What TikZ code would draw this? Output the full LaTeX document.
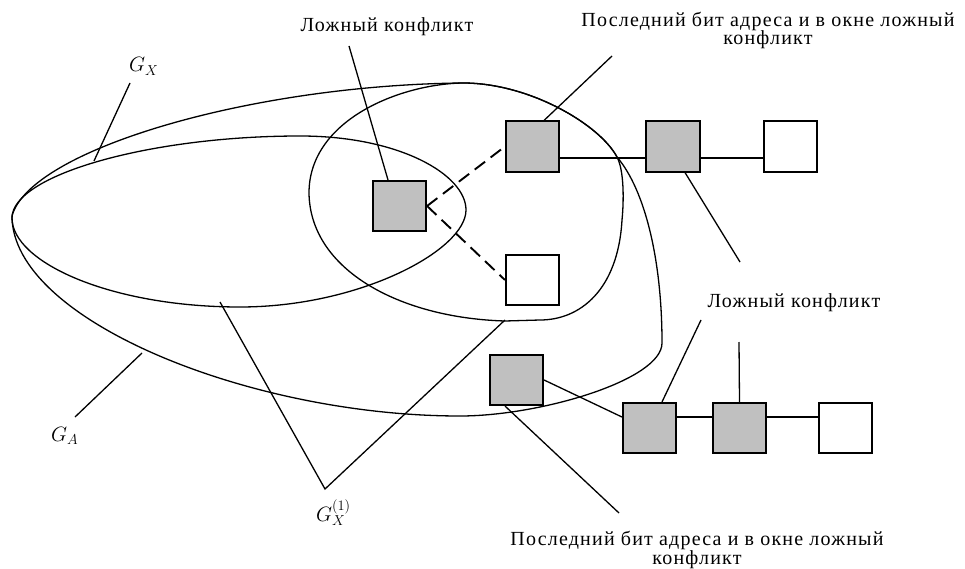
\documentclass[tikz,border=0pt]{standalone}
\usepackage{fontspec}
\setmainfont{Liberation Serif}[LetterSpace=6]
\definecolor{boxgray}{RGB}{192,192,192}
\begin{document}
\begin{tikzpicture}[x=1pt,y=-1pt,
  box/.style={draw, line width=1.6pt, minimum width=53.5pt, minimum height=50.5pt, inner sep=0pt},
  gbox/.style={box, fill=boxgray},
  wbox/.style={box, fill=white},
  curve/.style={line width=1.3pt},
  lead/.style={line width=1.3pt},
  conn/.style={line width=1.3pt},
  dconn/.style={line width=1.9pt, dash pattern=on 13pt off 7pt},
  lbl/.style={font=\fontsize{20}{24}\selectfont, inner sep=0pt, anchor=base},
  mlbl/.style={font=\fontsize{20}{24}\selectfont, inner sep=0pt, anchor=base west},
]
\useasboundingbox (0,0) rectangle (965,569);

% closed curves
\draw[curve] (12,218) .. controls (12,175) and (150,136) .. (300,136)
  .. controls (400,136) and (466,175) .. (466,210)
  .. controls (466,250) and (360,307) .. (240,307)
  .. controls (110,307) and (12,262) .. cycle;
\draw[curve] (12,216) .. controls (30,150) and (250,85) .. (463,83)
  .. controls (530,83) and (600,125) .. (617,157)
  .. controls (645,190) and (662,260) .. (662,343)
  .. controls (662,380) and (540,416) .. (460,416)
  .. controls (250,416) and (12,320) .. cycle;
\draw[curve] (309,193) .. controls (309,120) and (400,84) .. (463,83)
  .. controls (530,83) and (600,125) .. (617,157)
  .. controls (624,170) and (624,200) .. (622,220)
  .. controls (618,290) and (580,320) .. (540,320)
  -- (505,321)
  .. controls (400,318) and (310,270) .. cycle;

% boxes
\node[gbox] (A) at (399.5,206) {};
\node[gbox] (B) at (532.5,146.5) {};
\node[wbox] (C) at (532.5,280) {};
\node[gbox] (D) at (673,146.5) {};
\node[wbox] (E) at (790.5,146.5) {};
\node[gbox] (F) at (516.5,380) {};
\node[gbox] (G) at (649.5,428) {};
\node[gbox] (H) at (739.5,428) {};
\node[wbox] (I) at (845.5,428) {};

% connectors
\draw[dconn] (A.east) -- (B.west);
\draw[dconn] (A.east) -- (C.west);
\draw[conn] ([yshift=-11.5pt]B.east) -- ([yshift=-11.5pt]D.west);
\draw[conn] ([yshift=-11.5pt]D.east) -- ([yshift=-11.5pt]E.west);
\draw[conn] (F.east) -- ([yshift=11pt]G.west);
\draw[conn] ([yshift=11pt]G.east) -- ([yshift=11pt]H.west);
\draw[conn] ([yshift=11pt]H.east) -- ([yshift=11pt]I.west);

% labels
\node[lbl] (t1) at (387,32) {Ложный конфликт};
\node[lbl] (t2a) at (768,26.7) {Последний бит адреса и в окне ложный};
\node[lbl] (t2b) at (768,45) {конфликт};
\node[lbl] (t3) at (794,307) {Ложный конфликт};
\node[lbl] (t4a) at (697,545) {Последний бит адреса и в окне ложный};
\node[lbl] (t4b) at (697,564) {конфликт};
\node[mlbl] (gx) at (129,72) {$G_X$};
\node[mlbl] (ga) at (51,441) {$G_A$};
\node[mlbl] (gx1) at (316,521) {$G_X^{(1)}$};

% leader lines
\coordinate (gxe) at (94,161);
\coordinate (gae) at (142,353);
\coordinate (v1) at (220,302);
\coordinate (v2) at (505,320);
\coordinate (gxs) at (130,83);
\coordinate (gas) at (75,417);
\coordinate (vb) at (325,489);
\coordinate (t1s) at (349,46);
\coordinate (t2s) at (612,56);
\coordinate (t3s) at (740,262);
\coordinate (t3g) at (701,320);
\coordinate (t3h) at (739,342);
\coordinate (t4s) at (619,513);
\draw[lead] (gxs) -- (gxe);
\draw[lead] (gas) -- (gae);
\draw[lead] (v1) -- (vb) -- (v2);
\draw[lead] (t1s) -- (A.north -| 388,0);
\draw[lead] (t2s) -- (B.north -| 544,0);
\draw[lead] (t3s) -- (D.south -| 685,0);
\draw[lead] (t3g) -- (G.north -| 662,0);
\draw[lead] (t3h) -- (H.north);
\draw[lead] (t4s) -- (F.south -| 505,0);
\end{tikzpicture}
\end{document}
